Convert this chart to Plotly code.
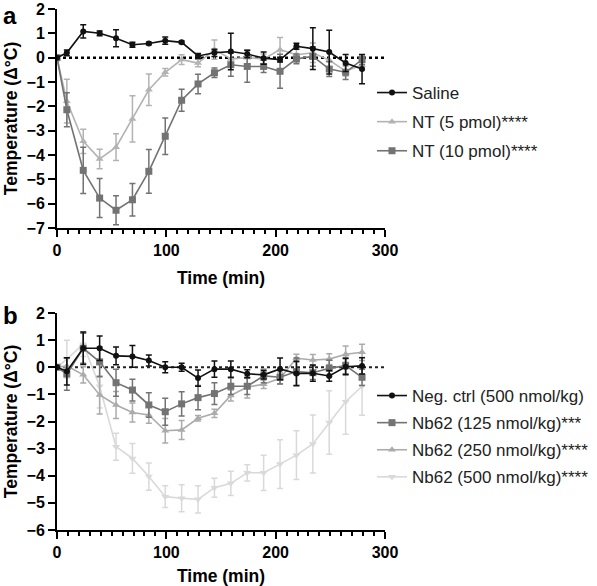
import plotly.graph_objects as go

# ---- data ----
time_min = [0, 9, 24, 39, 54, 69, 84, 99, 114, 129, 144, 159, 174, 189, 204, 219, 234, 249, 264, 279]

# Panel a
saline = [0, 0.2, 1.08, 1.0, 0.8, 0.53, 0.58, 0.7, 0.63, 0.07, 0.2, 0.25, 0.15, -0.02, -0.08, 0.47, 0.37, 0.23, -0.22, -0.47]
saline_err = [0, 0.12, 0.27, 0.1, 0.35, 0.1, 0.05, 0.15, 0.05, 0.1, 0.15, 0.75, 0.15, 0.25, 0.1, 0.12, 0.86, 0.9, 0.35, 0.6]
nt5 = [0, -1.79, -3.44, -4.16, -3.68, -2.52, -1.32, -0.6, -0.08, -0.22, 0.33, -0.05, 0.0, -0.05, 0.33, 0.12, 0.2, -0.1, -0.55, -0.3]
nt5_err = [0, 0.9, 0.5, 0.4, 0.55, 0.95, 0.65, 0.15, 0.2, 0.15, 0.4, 0.3, 0.3, 0.2, 0.5, 0.3, 0.4, 0.3, 0.2, 0.2]
nt10 = [0, -2.14, -4.63, -5.77, -6.27, -5.84, -4.67, -3.23, -1.75, -1.08, -0.62, -0.29, -0.36, -0.36, -0.56, -0.05, 0.05, -0.47, -0.6, -0.08]
nt10_err = [0, 0.7, 0.95, 0.8, 0.6, 0.67, 0.9, 0.75, 0.45, 0.4, 0.2, 0.47, 0.65, 0.25, 0.7, 0.2, 0.4, 0.3, 0.3, 0.2]

# Panel b
neg = [0, -0.15, 0.7, 0.7, 0.42, 0.4, 0.25, 0, 0, -0.4, -0.07, -0.07, -0.24, -0.28, -0.06, -0.23, -0.22, -0.32, 0.02, 0.05]
neg_err = [0, 0.5, 0.6, 0.45, 0.33, 0.4, 0.2, 0.2, 0.15, 0.3, 0.3, 0.3, 0.15, 0.15, 0.4, 0.45, 0.3, 0.2, 0.3, 0.3]
nb125 = [0, -0.25, 0.7, 0.2, -0.57, -0.84, -1.39, -1.64, -1.35, -1.12, -0.97, -0.7, -0.7, -0.32, -0.37, -0.16, -0.2, -0.04, 0.06, -0.37]
nb125_err = [0, 0.6, 0.55, 0.55, 0.5, 0.4, 0.45, 0.5, 0.45, 0.45, 0.4, 0.3, 0.3, 0.25, 0.25, 0.5, 0.25, 0.3, 0.3, 0.3]
nb250 = [0, 0.05, -0.28, -1.02, -1.39, -1.67, -1.76, -2.34, -2.31, -1.88, -1.7, -1.04, -0.73, -0.63, -0.41, 0.33, 0.27, 0.3, 0.48, 0.55]
nb250_err = [0, 0.3, 0.3, 0.7, 0.5, 0.35, 0.3, 0.45, 0.35, 0.1, 0.15, 0.2, 0.4, 0.15, 0.2, 0.15, 0.2, 0.2, 0.3, 0.3]
nb500 = [0, 0.3, 0.85, -0.7, -2.93, -3.36, -4.03, -4.77, -4.83, -4.87, -4.44, -4.28, -3.89, -3.89, -3.57, -3.24, -2.83, -2.04, -1.27, -0.7]
nb500_err = [0, 0.7, 0.45, 0.8, 0.5, 0.55, 0.5, 0.4, 0.5, 0.5, 0.35, 0.45, 0.3, 0.65, 0.9, 0.9, 1.07, 1.17, 1.2, 1.07]

labels_a = ["Saline", "NT (5 pmol)****", "NT (10 pmol)****"]
labels_b = ["Neg. ctrl (500 nmol/kg)", "Nb62 (125 nmol/kg)***", "Nb62 (250 nmol/kg)****", "Nb62 (500 nmol/kg)****"]
y_ticks_a = [2, 1, 0, -1, -2, -3, -4, -5, -6, -7]
y_ticks_b = [2, 1, 0, -1, -2, -3, -4, -5, -6]
x_ticks = [0, 100, 200, 300]

fig = go.Figure()

def add(y, err, name, color, symbol, size, xa, ya, legend, rank):
    fig.add_trace(go.Scatter(
        x=time_min, y=y, name=name, mode="lines+markers",
        line=dict(color=color, width=1.6),
        marker=dict(color=color, symbol=symbol, size=size),
        error_y=dict(type="data", array=err, color=color, thickness=1.5, width=3),
        xaxis=xa, yaxis=ya, legend=legend, legendrank=rank, legendgroup=name,
    ))

# panel a (draw light ones first)
add(nt5, nt5_err, labels_a[1], "#b3b3b3", "triangle-up", 7, "x", "y", "legend", 2)
add(nt10, nt10_err, labels_a[2], "#737373", "square", 7, "x", "y", "legend", 3)
add(saline, saline_err, labels_a[0], "#111111", "circle", 6, "x", "y", "legend", 1)

# panel b
add(nb500, nb500_err, labels_b[3], "#d9d9d9", "triangle-down", 7, "x2", "y2", "legend2", 4)
add(nb250, nb250_err, labels_b[2], "#ababab", "triangle-up", 7, "x2", "y2", "legend2", 3)
add(nb125, nb125_err, labels_b[1], "#737373", "square", 7, "x2", "y2", "legend2", 2)
add(neg, neg_err, labels_b[0], "#111111", "circle", 6, "x2", "y2", "legend2", 1)

tickfont = dict(family="Arial", size=16, color="black", weight="bold")
titlefont = dict(family="Arial", size=17.5, color="black", weight="bold")

xcommon = dict(range=[0, 300], tickvals=x_ticks, ticks="outside", ticklen=7, tickwidth=2,
               showline=True, linecolor="black", linewidth=2, showgrid=False, zeroline=False,
               tickfont=tickfont, minor=dict(dtick=10, ticks="outside", ticklen=4, tickwidth=1.5, tickcolor="black"),
               tickcolor="black", automargin=False)
ycommon = dict(ticks="outside", ticklen=7, tickwidth=2, tickcolor="black",
               showline=True, linecolor="black", linewidth=2, showgrid=False, zeroline=False,
               tickfont=tickfont, automargin=False)

xd = [57/597, 385/597]
fig.update_layout(
    width=597, height=586, margin=dict(l=0, r=0, t=0, b=0, autoexpand=False),
    paper_bgcolor="white", plot_bgcolor="white",
    xaxis=dict(**xcommon, domain=xd, anchor="y",
               title=dict(text="Time (min)", font=titlefont, standoff=14)),
    yaxis=dict(**ycommon, domain=[1-228/586, 1-9/586], anchor="x", range=[-7, 2], tickvals=y_ticks_a,
               title=dict(text="Temperature (Δ°C)", font=titlefont, standoff=4)),
    xaxis2=dict(**xcommon, domain=xd, anchor="y2",
                title=dict(text="Time (min)", font=titlefont, standoff=14)),
    yaxis2=dict(**ycommon, domain=[1-530/586, 1-313/586], anchor="x2", range=[-6, 2], tickvals=y_ticks_b,
                title=dict(text="Temperature (Δ°C)", font=titlefont, standoff=4)),
    legend=dict(x=372/597, y=1-75/586, xanchor="left", yanchor="top", bgcolor="rgba(0,0,0,0)",
                font=dict(family="Arial", size=17, color="#222222"), tracegroupgap=4, itemwidth=30),
    legend2=dict(x=372/597, y=1-378/586, xanchor="left", yanchor="top", bgcolor="rgba(0,0,0,0)",
                 font=dict(family="Arial", size=17, color="#222222"), tracegroupgap=2, itemwidth=30),
    showlegend=True,
    shapes=[
        dict(type="line", xref="x", yref="y", x0=0, x1=300, y0=0, y1=0,
             line=dict(color="black", width=2.5, dash="dot"), layer="below"),
        dict(type="line", xref="x2", yref="y2", x0=0, x1=300, y0=0, y1=0,
             line=dict(color="#222222", width=2, dash="dot"), layer="below"),
    ],
    annotations=[
        dict(text="a", x=0, y=1, xref="paper", yref="paper", xanchor="left", yanchor="top",
             showarrow=False, font=dict(family="Arial", size=24, color="black", weight="bold"), xshift=1, yshift=0),
        dict(text="b", x=0, y=1-300/586, xref="paper", yref="paper", xanchor="left", yanchor="top",
             showarrow=False, font=dict(family="Arial", size=24, color="black", weight="bold"), xshift=1, yshift=0),
    ],
)

fig.write_html("out.html", config={"displayModeBar": False},
               post_script="document.body.style.margin='0';")
